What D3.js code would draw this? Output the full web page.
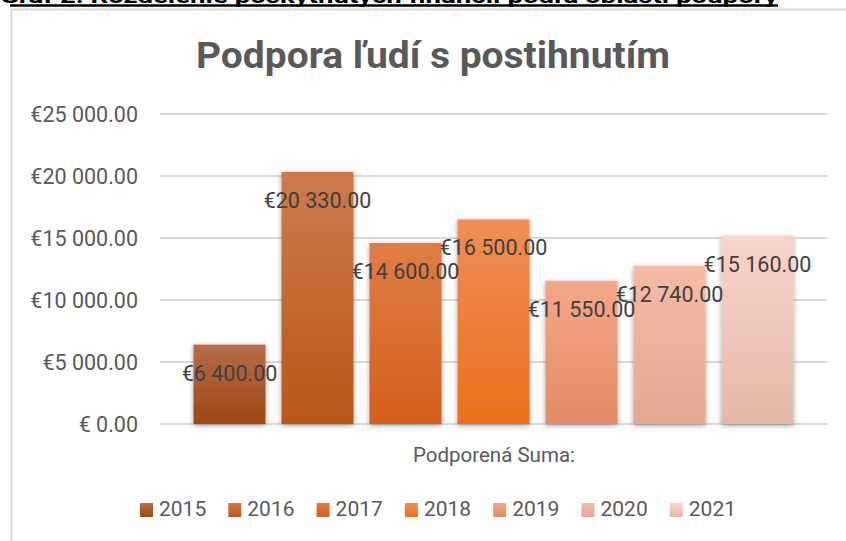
<!DOCTYPE html>
<html>
<head>
<meta charset="utf-8">
<script src="https://cdn.jsdelivr.net/npm/d3@7"></script>
<style>
  body { margin: 0; background: #fff; }
  text { font-family: Roboto, "Open Sans", sans-serif; }
</style>
</head>
<body>
<script>
// chart data
const years = ['2015', '2016', '2017', '2018', '2019', '2020', '2021'];
const amounts = [6400, 20330, 14600, 16500, 11550, 12740, 15160];
const yTicks = [0, 5000, 10000, 15000, 20000, 25000];
const caption = 'Graf 2: Rozdelenie poskytnutých financií podľa oblasti podpory';
const title = 'Podpora ľudí s postihnutím';
const xTitle = 'Podporená Suma:';

// gradient colours per year: top, bottom
const colors = [
  ['#b76c4b', '#9f4814'],
  ['#cc7a4f', '#ba5717'],
  ['#e07c45', '#d2601a'],
  ['#f18d58', '#e8701b'],
  ['#f4a88a', '#e48965'],
  ['#f6bba6', '#e3a892'],
  ['#f8d4c9', '#e4b8a7']
];

const W = 846, H = 541;
const svg = d3.select('body').append('svg')
  .attr('width', W)
  .attr('height', H);

const defs = svg.append('defs');
defs.append('filter')
  .attr('id', 'shadow')
  .attr('x', '-20%').attr('y', '-10%')
  .attr('width', '140%').attr('height', '120%')
  .append('feDropShadow')
  .attr('dx', 0).attr('dy', 1.5)
  .attr('stdDeviation', 2.5)
  .attr('flood-color', '#000')
  .attr('flood-opacity', 0.38);

colors.forEach((c, i) => {
  const g = defs.append('linearGradient')
    .attr('id', 'grad' + i)
    .attr('x1', 0).attr('y1', 0).attr('x2', 0).attr('y2', 1);
  g.append('stop').attr('offset', '0%').attr('stop-color', c[0]);
  g.append('stop').attr('offset', '100%').attr('stop-color', c[1]);
});

// caption of the document, mostly cut off at the top
svg.append('text')
  .attr('x', 0)
  .attr('y', 3)
  .attr('font-size', 21)
  .attr('font-weight', 700)
  .attr('fill', '#000')
  .attr('textLength', 778)
  .attr('lengthAdjust', 'spacingAndGlyphs')
  .text(caption);
svg.append('line')
  .attr('x1', 10).attr('x2', 778)
  .attr('y1', 5.5).attr('y2', 5.5)
  .attr('stroke', '#000')
  .attr('stroke-width', 2.4);

// chart frame
svg.append('path')
  .attr('d', 'M11.5,' + H + 'V9.5H' + W)
  .attr('fill', 'none')
  .attr('stroke', '#d9d9d9')
  .attr('stroke-width', 2);

svg.append('text')
  .attr('x', 433)
  .attr('y', 68)
  .attr('text-anchor', 'middle')
  .attr('font-size', 37)
  .attr('font-weight', 700)
  .attr('fill', '#595959')
  .attr('textLength', 474)
  .attr('lengthAdjust', 'spacingAndGlyphs')
  .text(title);

const y = d3.scaleLinear()
  .domain([0, 25000])
  .range([424, 114]);

const x = d3.scaleBand()
  .domain(years)
  .range([160, 827])
  .paddingInner(0.182)
  .paddingOuter(0.381);

const fmt = v => {
  const s = d3.format(',.2f')(v).replace(/,/g, ' ');
  return v === 0 ? '€ ' + s : '€' + s;
};

// gridlines
svg.append('g')
  .selectAll('line')
  .data(yTicks)
  .join('line')
  .attr('x1', 160).attr('x2', 827)
  .attr('y1', d => y(d)).attr('y2', d => y(d))
  .attr('stroke', '#d9d9d9')
  .attr('stroke-width', 2);

// y axis labels
const yAxis = svg.append('g')
  .attr('transform', 'translate(138,0)')
  .call(d3.axisLeft(y).tickValues(yTicks).tickSize(0).tickPadding(0).tickFormat(fmt));
yAxis.select('.domain').remove();
yAxis.selectAll('text')
  .attr('font-size', 21.5)
  .attr('font-family', 'Roboto, sans-serif')
  .attr('fill', '#595959')
  .attr('dy', '0.36em');

// bars
svg.append('g')
  .selectAll('rect')
  .data(amounts)
  .join('rect')
  .attr('x', (d, i) => x(years[i]))
  .attr('y', d => y(d))
  .attr('width', x.bandwidth())
  .attr('height', d => y(0) - y(d))
  .attr('fill', (d, i) => 'url(#grad' + i + ')')
  .attr('filter', 'url(#shadow)');

// data labels
svg.append('g')
  .selectAll('text')
  .data(amounts)
  .join('text')
  .attr('x', (d, i) => x(years[i]) + x.bandwidth() / 2)
  .attr('y', d => y(d) + 36)
  .attr('text-anchor', 'middle')
  .attr('font-size', 21.5)
  .attr('fill', '#404040')
  .text(fmt);

svg.append('text')
  .attr('x', 494)
  .attr('y', 462)
  .attr('text-anchor', 'middle')
  .attr('font-size', 20.5)
  .attr('fill', '#595959')
  .text(xTitle);

// legend
const legend = svg.append('g')
  .selectAll('g')
  .data(years)
  .join('g')
  .attr('transform', (d, i) => 'translate(' + (140 + i * 88.3) + ',0)');
legend.append('rect')
  .attr('x', 0).attr('y', 503)
  .attr('width', 13).attr('height', 14)
  .attr('fill', (d, i) => 'url(#grad' + i + ')');
legend.append('text')
  .attr('x', 19)
  .attr('y', 516)
  .attr('font-size', 21)
  .attr('fill', '#595959')
  .text(d => d);
</script>
</body>
</html>
